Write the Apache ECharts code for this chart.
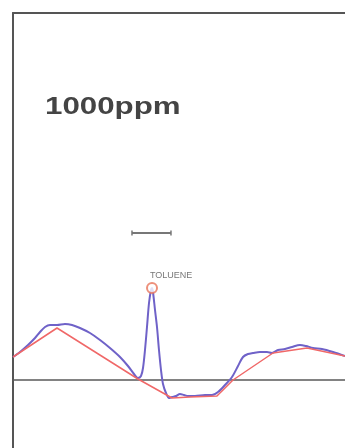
<!DOCTYPE html>
<html>
<head>
<meta charset="utf-8">
<style>
  html, body { margin: 0; padding: 0; background: #fff; }
  #chart { width: 345px; height: 448px; }
</style>
<script src="https://cdn.jsdelivr.net/npm/echarts@6/dist/echarts.min.js"></script>
</head>
<body>
<div id="chart"></div>
<script>
// detector signal (x: time units, y: response, 0 = reference line)
var signalX = [0, 0.208, 0.445, 0.653, 0.801, 0.950, 1.098, 1.306, 1.543, 1.751, 1.988, 2.285, 2.582, 2.878, 3.175, 3.412, 3.591, 3.709, 3.798, 3.858, 3.917, 3.976, 4.036, 4.095, 4.125, 4.154, 4.214, 4.273, 4.332, 4.392, 4.451, 4.540, 4.629, 4.718, 4.837, 4.955, 5.074, 5.193, 5.401, 5.697, 5.905, 6.083, 6.291, 6.499, 6.677, 6.825, 6.973, 7.122, 7.329, 7.537, 7.685, 7.864, 8.071, 8.279, 8.516, 8.694, 8.902, 9.169, 9.496, 9.852];
var signalY = [4.6, 5.6, 7.0, 8.4, 9.6, 10.6, 11.0, 11.0, 11.2, 11.0, 10.4, 9.4, 8.0, 6.4, 4.6, 2.8, 1.2, 0.4, 0.8, 2.4, 6.0, 10.6, 15.4, 18.0, 18.4, 17.6, 14.0, 10.6, 6.0, 2.0, -0.8, -2.6, -3.6, -3.4, -3.2, -2.8, -3.0, -3.2, -3.2, -3.0, -3.0, -2.4, -1.0, 0.6, 2.8, 4.6, 5.2, 5.4, 5.6, 5.6, 5.4, 6.0, 6.2, 6.6, 7.0, 6.8, 6.4, 6.2, 5.6, 4.8];

// fitted baseline
var baseX = [0, 1.306, 3.709, 4.718, 5.252, 6.053, 6.528, 7.715, 8.724, 9.852];
var baseY = [4.6, 10.4, 0.2, -3.6, -3.4, -3.2, 0, 5.4, 6.4, 4.8];

// identified peak
var peakName = 'TOLUENE';
var peakX = 4.125;
var peakY = 18.4;

// scale bar
var scaleBarX = [3.531, 4.688];
var scaleBarY = 29.4;

var concLabel = '1000ppm';

var X_MIN = 0, X_MAX = 9.852;
var Y_MIN = -13.6, Y_MAX = 73.4;

function zip(xs, ys) {
  var out = [];
  for (var i = 0; i < xs.length; i++) out.push([xs[i], ys[i]]);
  return out;
}

var frameLine = { show: true, onZero: false, lineStyle: { color: '#555', width: 2 } };

var chart = echarts.init(document.getElementById('chart'));
chart.setOption({
  animation: false,
  backgroundColor: '#fff',
  grid: { left: 13, top: 13, right: 0, bottom: 0 },
  xAxis: [{
    type: 'value',
    min: X_MIN, max: X_MAX,
    // reference line at zero
    axisLine: { show: true, onZero: true, lineStyle: { color: '#5a5a5a', width: 1.5 } },
    axisTick: { show: false },
    axisLabel: { show: false },
    splitLine: { show: false }
  }, {
    type: 'value',
    position: 'top',
    min: X_MIN, max: X_MAX,
    axisLine: frameLine,
    axisTick: { show: false },
    axisLabel: { show: false },
    splitLine: { show: false }
  }],
  yAxis: {
    type: 'value',
    min: Y_MIN, max: Y_MAX,
    axisLine: frameLine,
    axisTick: { show: false },
    axisLabel: { show: false },
    splitLine: { show: false }
  },
  graphic: [{
    type: 'text',
    x: 45, y: 108,
    scaleX: 1.36,
    style: {
      text: concLabel,
      font: 'bold 23px "Liberation Sans", Arial, sans-serif',
      fill: '#444',
      textVerticalAlign: 'middle',
      verticalAlign: 'middle'
    }
  }],
  series: [
    {
      name: 'signal',
      type: 'line',
      data: zip(signalX, signalY),
      showSymbol: false,
      smooth: 0.3,
      lineStyle: { color: '#6f62c8', width: 2 },
      z: 2
    },
    {
      name: 'baseline',
      type: 'line',
      data: zip(baseX, baseY),
      showSymbol: false,
      lineStyle: { color: '#f06868', width: 1.5 },
      z: 3
    },
    {
      name: 'peak',
      type: 'scatter',
      data: [[peakX, peakY]],
      symbol: 'emptyCircle',
      symbolSize: 10,
      itemStyle: { color: '#e8745a', borderColor: '#e8745a', borderWidth: 1.5 },
      label: {
        show: true,
        formatter: peakName,
        position: 'top',
        distance: 2,
        align: 'left',
        offset: [-2, 0],
        fontFamily: '"Liberation Sans", Arial, sans-serif',
        fontSize: 9,
        color: '#555'
      },
      z: 4
    },
    {
      name: 'scale',
      type: 'line',
      data: [[scaleBarX[0], scaleBarY], [scaleBarX[1], scaleBarY]],
      symbol: 'rect',
      symbolSize: [1.5, 5],
      itemStyle: { color: '#777' },
      lineStyle: { color: '#777', width: 2 },
      z: 2
    }
  ]
});
</script>
</body>
</html>
